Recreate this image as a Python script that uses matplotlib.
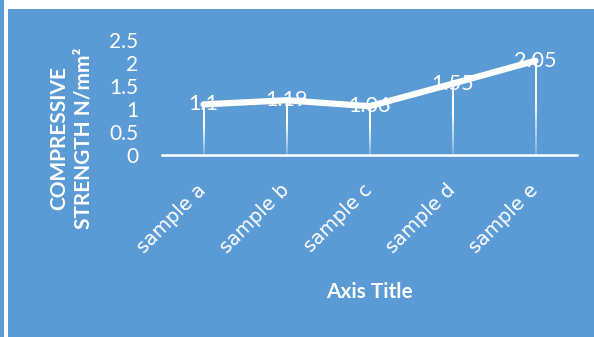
import numpy as np
import matplotlib
matplotlib.use("Agg")
import matplotlib.pyplot as plt
from matplotlib.collections import LineCollection
from matplotlib.patches import Rectangle

categories = ["sample a", "sample b", "sample c", "sample d", "sample e"]
values = [1.10, 1.19, 1.06, 1.55, 2.05]
value_labels = ["1.1", "1.19", "1.06", "1.55", "2.05"]
yticks = [0, 0.5, 1, 1.5, 2, 2.5]
ytick_labels = ["0", "0.5", "1", "1.5", "2", "2.5"]
ytitle = "COMPRESSIVE\nSTRENGTH N/mm\u00b2"
xtitle = "Axis Title"

BLUE = "#5B9BD5"
FONT = ["Lato", "DejaVu Sans"]
plt.rcParams["font.family"] = FONT

W, H = 594, 337
fig = plt.figure(figsize=(W / 100, H / 100), dpi=100, facecolor="white")

# background panels
fig.patches.append(Rectangle((-0.1, -0.1), 0.1 + 3.5 / W, 1.2, transform=fig.transFigure,
                             facecolor=BLUE, edgecolor="none", zorder=-5))
fig.patches.append(Rectangle((7.5 / W, -0.1), 2.0, 0.1 + (H - 9) / H,
                             transform=fig.transFigure,
                             facecolor=BLUE, edgecolor="none", zorder=-5))

left, right = 162 / W, 577 / W
bottom, top = (H - 155) / H, (H - 40) / H
ax = fig.add_axes([left, bottom, right - left, top - bottom])
ax.set_zorder(2)
ax.set_facecolor("none")
x = np.arange(len(categories))
ax.set_xlim(-0.5, len(categories) - 0.5)
ax.set_ylim(0, 2.5)

for s in ["left", "right", "top"]:
    ax.spines[s].set_visible(False)
ax.spines["bottom"].set_color("white")
ax.spines["bottom"].set_linewidth(1.8)

ax.set_yticks(yticks)
ax.set_yticklabels(ytick_labels)
ax.tick_params(axis="y", length=0, pad=17, labelcolor="white", labelsize=15)
ax.set_xticks(x)
ax.set_xticklabels(categories, rotation=45, ha="right", va="center",
                   rotation_mode="anchor", family=["DejaVu Sans"])
ax.tick_params(axis="x", length=0, pad=23, labelcolor="white", labelsize=14)

# drop lines with gradient
segs, cols = [], []
n = 40
for xi, v in zip(x, values):
    ys = np.linspace(0, v, n + 1)
    for k in range(n):
        t = (k + 0.5) / n
        segs.append([(xi, ys[k]), (xi, ys[k + 1])])
        a = min(1.0, 0.2 + 1.4 * t)
        cols.append((1, 1, 1, a))
ax.add_collection(LineCollection(segs, colors=cols, linewidths=1.4, zorder=2))

ax.plot(x, values, color="white", lw=4.5, solid_capstyle="round",
        solid_joinstyle="round", zorder=3)

for xi, v, lab in zip(x, values, value_labels):
    ax.text(xi, v, lab, ha="center", va="center", color="white",
            fontsize=15.5, zorder=4)

fig.text(71.5 / W, (H - 138) / H, ytitle, rotation=90, ha="center", va="center",
         multialignment="center", color="white", fontsize=15,
         fontweight="bold", linespacing=1.25)
fig.text(369.5 / W, (H - 292) / H, xtitle, ha="center", va="center",
         color="white", fontsize=15, fontweight="bold")

fig.savefig("out.png", dpi=100, facecolor="white")
